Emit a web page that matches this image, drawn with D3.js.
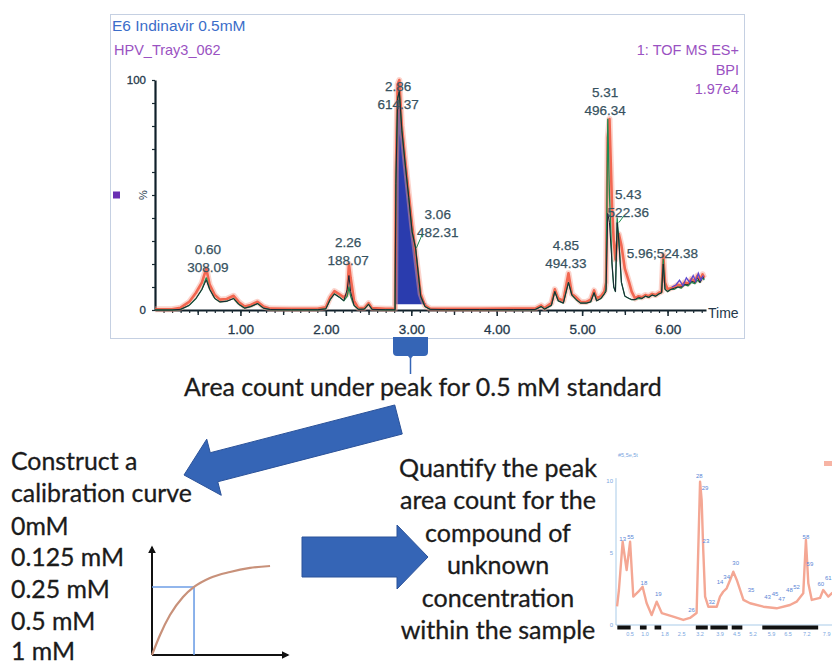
<!DOCTYPE html>
<html>
<head>
<meta charset="utf-8">
<script src="https://d3js.org/d3.v7.min.js"></script>
<style>
  body { margin: 0; background: #fff; }
  svg { display: block; }
</style>
</head>
<body>
<div id="chart"></div>
<script>
// retention time (min) shared by the three overlaid traces
const rtTimes = [
  0.00,0.20,0.30,0.40,0.48,0.55,0.60,0.64,0.70,0.76,
  0.84,0.92,0.98,1.05,1.12,1.20,1.27,1.35,1.60,1.90,
  2.00,2.05,2.10,2.16,2.21,2.25,2.27,2.29,2.33,2.38,
  2.45,2.50,2.54,2.70,2.81,2.82,2.84,2.86,2.89,2.93,
  2.97,3.01,3.05,3.11,3.16,3.22,3.40,3.80,4.20,4.45,
  4.52,4.56,4.64,4.68,4.72,4.78,4.84,4.88,4.93,4.98,
  5.05,5.10,5.14,5.17,5.22,5.26,5.28,5.30,5.32,5.35,
  5.37,5.39,5.41,5.43,5.46,5.50,5.55,5.58,5.62,5.66,
  5.70,5.74,5.78,5.82,5.86,5.90,5.93,5.95,5.97,6.00,
  6.04,6.08,6.12,6.16,6.20,6.24,6.28,6.32,6.35,6.38,
  6.41,6.43
];
// relative intensity (%)
const bpiRed = [
  0.3,0.3,1.0,3.5,7.5,12,18,11,6.5,4.5,
  4.8,6.2,3.5,1.5,2.2,3.6,1.5,0.6,0.5,0.5,
  1.2,5.5,8.2,6.8,5.5,7,20,14,4,0.8,
  0.8,3,0.8,0.5,0.5,60,98,100,80,65,
  51,37,25,7,2,0.6,0.5,0.5,0.6,0.6,
  2,0.8,3,9,5,4,16,7,5.5,3.6,
  3.5,4.5,8.5,5,6,8,12,75,83,45,
  30,22,30,33,28,18,12,8,5,6,
  5.5,6.5,6,7,6.5,7.5,8,24,12,9,
  9.5,10,11,10.5,12,11.5,13.5,12.5,15,13,
  15.5,14
];
const ticGreen = [
  0,0,0.3,2,5,9,14,9,5,3.5,
  3.8,5,2.5,0.8,1.5,2.8,0.8,0.2,0.1,0.1,
  0.5,4.5,7,5.5,4,6,10,6,2,0.3,
  0.4,2.5,0.3,0.1,0.1,55,92,95,78,63,
  49,34,27,6,1.5,0.3,0.2,0.2,0.2,0.2,
  1.5,0.4,2,8,4,3,12,6.5,4.5,3,
  3,3.5,7.5,4,5,7,9,83,50,20,
  10,8,40,30,12,6,5,4.5,4.5,5,
  5,6,5.5,6.5,6,7,7.5,22,9,8,
  9,9,10,9.5,11,10.5,12,11.5,13,12,
  14,13
];
const xicDark = [
  0,0,0.3,2,5,9,13,9,5,3.5,
  3.8,5,2.5,0.8,1.5,2.8,0.8,0.2,0.1,0.1,
  0.5,4.5,7,5.5,4,9,15,8,2,0.3,
  0.4,2.5,0.3,0.1,0.1,55,92,95,78,63,
  49,34,27,6,1.5,0.3,0.2,0.2,0.2,0.2,
  1.5,0.4,2,8,4,3,12,6.5,4.5,3,
  3,3.5,7.5,4,5,7,8,42,38,20,
  10,8,38,30,12,6,5,4.5,4.5,5.5,
  5,6,5.5,6.5,6,7,7.5,20,9,8,
  9,9.5,10,10,11,11,12.5,12,14,12,
  14.5,13.5
];
const tailTimes = [6.05,6.10,6.14,6.18,6.22,6.26,6.30,6.33,6.36,6.39,6.42];
const tailBlue = [10,11,13,10.5,14,12,15,12.5,16,13,15];

// integrated indinavir peak
const peakTimes = [2.815,2.82,2.84,2.86,2.89,2.93,2.97,3.01,3.05,3.11,3.16,3.19];
const peakArea = [3,60,96,98,80,64,50,35,23,7,3,2.5];
const peakBase = 2.5;

const peakRt = ["0.60","2.26","2.86","3.06","4.85","5.31","5.43","5.96;524.38"];
const peakMz = ["308.09","188.07","614.37","482.31","494.33","496.34","522.36",""];
const xTickLabels = ["1.00","2.00","3.00","4.00","5.00","6.00"];

const standards = ["0mM","0.125 mM","0.25 mM","0.5 mM","1 mM"];
const calConc = [0,0.059,0.132,0.228,0.309,0.426,0.574,0.721,0.868];
const calResp = [0,0.185,0.37,0.537,0.63,0.713,0.769,0.806,0.824];
const calPick = [0.309, 0.63];

const sampleTimes = [0.04,0.11,0.25,0.40,0.53,0.65,0.84,1.00,1.15,1.34,1.53,1.72,2.15,2.53,2.78,3.03,3.16,3.22,3.28,3.35,3.47,3.79,3.91,4.03,4.16,4.29,4.41,4.54,4.79,5.04,5.54,6.04,6.54,6.79,7.04,7.14,7.23,7.36,7.67,7.79,7.98,8.12,8.42];
const sampleSignal = [1.3,2.43,5.78,3.82,5.78,1.97,2.31,2.66,1.53,0.69,1.62,0.83,0.58,0.35,0.49,0.83,9.95,8.68,5.21,1.97,1.27,1.27,1.97,2.31,2.55,3.13,3.70,3.13,1.74,1.51,1.27,1.16,1.39,1.62,2.20,5.90,2.90,1.74,1.88,2.43,1.97,2.22,2.1];
const sampleTags = ["13","55","18","19","28","29","23","26","32","14","34","30","35","43","45","47","48","52","58","59","60","61"];
const sampleTagX = [0.25,0.55,1.05,1.59,3.13,3.35,3.38,2.84,3.6,3.91,4.16,4.5,5.08,5.7,5.98,6.23,6.52,6.79,7.14,7.29,7.7,7.98];
const sampleTagY = [6.0,6.1,2.94,2.15,10.35,9.5,5.85,1.04,1.62,2.96,3.35,4.28,2.43,1.97,2.15,1.81,2.43,2.62,6.09,4.21,2.82,3.24];
const sampleTickText = ["0.5","1.0","1.8","2.5","3.2","3.9","4.5","5.2","5.9","6.5","7.2","7.9"];
const sampleTickVals = [0.53,1.09,1.84,2.47,3.16,3.91,4.54,5.15,5.85,6.47,7.17,7.92];
const sampleTickBlocks = [[0.05,0.55],[0.9,1.15],[1.45,1.7],[3.0,3.45],[3.55,4.2],[4.35,4.75],[5.5,7.6]];

const W = 832, H = 664;
const svg = d3.select("#chart").append("svg")
  .attr("width", W).attr("height", H)
  .style("font-family", "'Liberation Sans', Arial, sans-serif");

// ---------- chromatogram panel ----------
svg.append("rect")
  .attr("x", 110.5).attr("y", 14.5).attr("width", 634).attr("height", 324)
  .attr("fill", "#fff").attr("stroke", "#c5d0e2");

const x = d3.scaleLinear().domain([0, 6.45]).range([155, 706]);
const y = d3.scaleLinear().domain([0, 100]).range([310, 80]);

svg.append("text").attr("x", 112).attr("y", 31)
  .attr("font-size", 15.5).attr("fill", "#3b6dc9").text("E6 Indinavir 0.5mM");
svg.append("text").attr("x", 114).attr("y", 55)
  .attr("font-size", 14.5).attr("fill", "#9a52c2").text("HPV_Tray3_062");
const rightInfo = ["1: TOF MS ES+", "BPI", "1.97e4"];
rightInfo.forEach((s, i) => {
  svg.append("text").attr("x", 739).attr("y", 55 + i * 19.5)
    .attr("text-anchor", "end").attr("font-size", 14.5)
    .attr("fill", "#9a52c2").text(s);
});

// axes
const minor = d3.range(1, 65).map(d => d / 10);
svg.append("g").attr("transform", "translate(0,310)")
  .call(d3.axisBottom(x).tickValues(minor).tickSize(3).tickFormat("").tickSizeOuter(0))
  .call(g => g.selectAll("line").attr("stroke", "#1a2a33").attr("stroke-width", 1.2))
  .call(g => g.select(".domain").attr("stroke", "#10202a").attr("stroke-width", 2.2));
svg.append("g").attr("transform", "translate(0,310)")
  .call(d3.axisBottom(x).tickValues([0.5, 1.5, 2.5, 3.5, 4.5, 5.5]).tickSize(5).tickFormat("").tickSizeOuter(0))
  .call(g => g.select(".domain").remove())
  .call(g => g.selectAll("line").attr("stroke", "#1a2a33").attr("stroke-width", 1.4));
svg.append("g").attr("transform", "translate(0,310)")
  .call(d3.axisBottom(x).tickValues([1, 2, 3, 4, 5, 6]).tickSize(6).tickPadding(8)
    .tickFormat((d, i) => xTickLabels[i]).tickSizeOuter(0))
  .call(g => g.select(".domain").remove())
  .call(g => g.selectAll("line").attr("stroke", "#1a2a33").attr("stroke-width", 1.6))
  .call(g => g.selectAll("text").attr("font-size", 13.5).attr("fill", "#24384a")
    .attr("stroke", "#24384a").attr("stroke-width", 0.3)
    .attr("font-family", "'Liberation Sans', Arial, sans-serif"));

svg.append("g").attr("transform", "translate(155,0)")
  .call(d3.axisLeft(y).tickValues(d3.range(0, 101, 10)).tickSize(3).tickPadding(6)
    .tickFormat(d => (d === 0 || d === 100) ? d : "").tickSizeOuter(0))
  .call(g => g.select(".domain").attr("stroke", "#10202a").attr("stroke-width", 2.2))
  .call(g => g.selectAll("line").attr("stroke", "#1a2a33").attr("stroke-width", 1.2))
  .call(g => g.selectAll("text").attr("font-size", 11.5).attr("fill", "#24384a")
    .attr("stroke", "#24384a").attr("stroke-width", 0.3)
    .attr("font-family", "'Liberation Sans', Arial, sans-serif"));

svg.append("text").attr("transform", `translate(143,${y(50)}) rotate(-90)`)
  .attr("text-anchor", "middle").attr("dy", "0.35em")
  .attr("font-size", 11).attr("fill", "#24384a").text("%");
svg.append("rect").attr("x", 113).attr("y", y(50) - 3.5).attr("width", 7).attr("height", 7)
  .attr("fill", "#6a2fb3");
svg.append("text").attr("x", 708).attr("y", 318)
  .attr("font-size", 14).attr("fill", "#24384a").text("Time");

// traces
const peakPts = peakTimes.map((t, i) => [t, peakArea[i]]);
svg.append("path").datum(peakPts)
  .attr("fill", "#2a3cae")
  .attr("d", d3.area().x(d => x(d[0])).y0(y(peakBase)).y1(d => y(d[1])));

const trace = vals => rtTimes.map((t, i) => [t, vals[i]]);
const line = d3.line().x(d => x(d[0])).y(d => y(d[1]));

svg.append("path").datum(trace(bpiRed))
  .attr("fill", "none").attr("stroke", "#f7a08e").attr("stroke-width", 6)
  .attr("stroke-opacity", 0.45).attr("stroke-linejoin", "round").attr("d", line);
svg.append("path").datum(trace(bpiRed))
  .attr("fill", "none").attr("stroke", "#f0533b").attr("stroke-width", 2.6)
  .attr("stroke-opacity", 0.85).attr("stroke-linejoin", "round").attr("d", line);
svg.append("path").datum(trace(ticGreen))
  .attr("fill", "none").attr("stroke", "#1f8a4f").attr("stroke-width", 1.3)
  .attr("stroke-linejoin", "round").attr("d", line);
svg.append("path").datum(trace(xicDark))
  .attr("fill", "none").attr("stroke", "#1c2433").attr("stroke-width", 1)
  .attr("stroke-linejoin", "round").attr("d", line);
svg.append("path").datum(tailTimes.map((t, i) => [t, tailBlue[i]]))
  .attr("fill", "none").attr("stroke", "#5b48d0").attr("stroke-width", 1.3).attr("d", line);

// peak labels
const labelSpots = [[0.62, 18.7], [2.26, 21.7], [2.845, 89.6], [3.31, 33.9],
  [4.81, 20.4], [5.27, 87], [5.54, 42.6], [5.94, 24.8]];
labelSpots.forEach(([t, p], i) => {
  const cx = x(t), cy = y(p);
  const g = svg.append("g").attr("font-size", 13.5).attr("fill", "#37525f")
    .attr("stroke", "#37525f").attr("stroke-width", 0.25).attr("text-anchor", "middle");
  if (peakMz[i]) {
    g.append("text").attr("x", cx).attr("y", cy - 18).attr("dy", "0.35em").text(peakRt[i]);
    g.append("text").attr("x", cx).attr("y", cy).attr("dy", "0.35em").text(peakMz[i]);
  } else {
    g.append("text").attr("x", cx).attr("y", cy).attr("dy", "0.35em").text(peakRt[i]);
  }
});
svg.append("line").attr("x1", x(3.06)).attr("y1", y(27)).attr("x2", x(3.13)).attr("y2", y(33))
  .attr("stroke", "#1f8a4f").attr("stroke-width", 1);
svg.append("line").attr("x1", x(5.43)).attr("y1", y(38)).attr("x2", x(5.49)).attr("y2", y(41))
  .attr("stroke", "#1f8a4f").attr("stroke-width", 1);

// ---------- workflow annotations ----------
const blue = "#3565b6";
svg.append("path")
  .attr("d", "M393,337 H428 V352 Q428,356 424,356 L413,356 L410.5,359 L408,356 L397,356 Q393,356 393,352 Z")
  .attr("fill", blue);
svg.append("line").attr("x1", 410.5).attr("y1", 358).attr("x2", 410.5).attr("y2", 374)
  .attr("stroke", blue).attr("stroke-width", 1.5);

function arrow(x1, y1, x2, y2, sw, hw, hl) {
  const L = Math.hypot(x2 - x1, y2 - y1);
  const ux = (x2 - x1) / L, uy = (y2 - y1) / L, nx = -uy, ny = ux;
  const bx = x2 - ux * hl, by = y2 - uy * hl;
  const pts = [[x1 + nx * sw, y1 + ny * sw], [bx + nx * sw, by + ny * sw], [bx + nx * hw, by + ny * hw],
    [x2, y2], [bx - nx * hw, by - ny * hw], [bx - nx * sw, by - ny * sw], [x1 - nx * sw, y1 - ny * sw]];
  svg.append("polygon").attr("points", pts.map(p => p.join(",")).join(" "))
    .attr("fill", blue).attr("stroke", "#2b5299").attr("stroke-width", 1);
}
arrow(398.5, 419.5, 184, 475, 15, 29, 31);
arrow(302, 557, 428, 557, 20, 32, 31);

const body = "Lato, 'Open Sans', sans-serif";
function fitSize(str, target) {
  const t = svg.append("text").attr("font-family", body).attr("font-size", 20).text(str);
  const w = t.node().getComputedTextLength();
  t.remove();
  return 20 * target / w;
}

const ink = "#1b1b1b";
const fsArea = fitSize("Area count under peak for 0.5 mM standard", 478);
svg.append("text").attr("x", 184).attr("y", 396).attr("font-family", body)
  .attr("font-size", fsArea).attr("fill", ink).attr("stroke", ink).attr("stroke-width", 0.3)
  .text("Area count under peak for 0.5 mM standard");

const leftLines = ["Construct a", "calibration curve"].concat(standards);
const leftBase = [470, 502, 535, 566, 598, 630, 660];
const fsLeft = fitSize("calibration curve", 181);
leftLines.forEach((s, i) => {
  svg.append("text").attr("x", 11).attr("y", leftBase[i]).attr("font-family", body)
    .attr("font-size", fsLeft).attr("fill", ink).attr("stroke", ink).attr("stroke-width", 0.3).text(s);
});

const quantLines = ["Quantify the peak", "area count for the", "compound of", "unknown", "concentration", "within the sample"];
const fsQuant = fitSize("Quantify the peak", 198);
quantLines.forEach((s, i) => {
  svg.append("text").attr("x", 498).attr("y", 477 + i * 32.4).attr("text-anchor", "middle")
    .attr("font-family", body).attr("font-size", fsQuant).attr("fill", ink)
    .attr("stroke", ink).attr("stroke-width", 0.3).text(s);
});

// ---------- calibration sketch ----------
const cx = d3.scaleLinear().domain([0, 1]).range([152, 288]);
const cy = d3.scaleLinear().domain([0, 1]).range([655, 547]);
const defs = svg.append("defs");
defs.append("marker").attr("id", "ah").attr("viewBox", "0 0 10 10")
  .attr("refX", 8).attr("refY", 5).attr("markerWidth", 4).attr("markerHeight", 4)
  .attr("orient", "auto")
  .append("path").attr("d", "M0,0 L10,5 L0,10 Z").attr("fill", "#111");
svg.append("line").attr("x1", cx(0)).attr("y1", cy(0)).attr("x2", cx(0)).attr("y2", cy(1))
  .attr("stroke", "#111").attr("stroke-width", 2).attr("marker-end", "url(#ah)");
svg.append("line").attr("x1", cx(0)).attr("y1", cy(0)).attr("x2", cx(1)).attr("y2", cy(0))
  .attr("stroke", "#111").attr("stroke-width", 2).attr("marker-end", "url(#ah)");
svg.append("path")
  .attr("d", `M${cx(0)},${cy(calPick[1])} H${cx(calPick[0])} V${cy(0)}`)
  .attr("fill", "none").attr("stroke", "#6f9fe6").attr("stroke-width", 1.6);
svg.append("path").datum(calConc.map((c, i) => [c, calResp[i]]))
  .attr("fill", "none").attr("stroke", "#c8917a").attr("stroke-width", 2.2)
  .attr("d", d3.line().x(d => cx(d[0])).y(d => cy(d[1])).curve(d3.curveMonotoneX));

// ---------- sample chromatogram thumbnail ----------
const tx = d3.scaleLinear().domain([0, 10]).range([616, 882]);
const ty = d3.scaleLinear().domain([0, 10]).range([625, 481]);
const pale = "#7aa6e0";
svg.append("line").attr("x1", tx(0)).attr("x2", tx(0)).attr("y1", ty(10.2)).attr("y2", ty(0))
  .attr("stroke", "#a9cbe8").attr("stroke-width", 1);
svg.append("line").attr("x1", tx(0)).attr("x2", W).attr("y1", ty(0)).attr("y2", ty(0))
  .attr("stroke", "#a9cbe8").attr("stroke-width", 1);
[[10, "10"], [5, "5"], [0, "0"]].forEach(([v, s]) => {
  svg.append("text").attr("x", tx(0) - 3).attr("y", ty(v)).attr("dy", "0.35em")
    .attr("text-anchor", "end").attr("font-size", 6).attr("fill", pale).text(s);
});
svg.append("text").attr("x", 618).attr("y", 457).attr("font-size", 5.5).attr("fill", pale).text("#5,5e,5t");
svg.append("rect").attr("x", 824).attr("y", 461).attr("width", 10).attr("height", 5).attr("fill", "#f7b4a4");
sampleTickBlocks.forEach(([a, b]) => {
  svg.append("rect").attr("x", tx(a)).attr("y", ty(0) + 0.5).attr("width", tx(b) - tx(a)).attr("height", 4)
    .attr("fill", "#111");
});
sampleTickVals.forEach((v, i) => {
  svg.append("text").attr("x", tx(v)).attr("y", 636).attr("text-anchor", "middle")
    .attr("font-size", 5.5).attr("fill", pale).text(sampleTickText[i]);
});
svg.append("path").datum(sampleTimes.map((t, i) => [t, sampleSignal[i]]))
  .attr("fill", "none").attr("stroke", "#f4a794").attr("stroke-width", 2.4)
  .attr("stroke-linejoin", "round")
  .attr("d", d3.line().x(d => tx(d[0])).y(d => ty(d[1])));
sampleTags.forEach((s, i) => {
  svg.append("text").attr("x", tx(sampleTagX[i])).attr("y", ty(sampleTagY[i])).attr("dy", "0.35em")
    .attr("text-anchor", "middle").attr("font-size", 6).attr("fill", "#5b86d6").text(s);
});
</script>
</body>
</html>
